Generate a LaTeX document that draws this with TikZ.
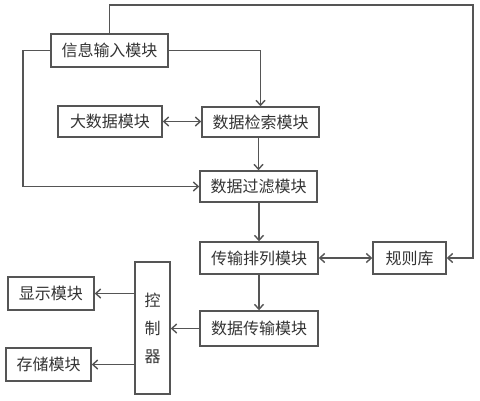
\documentclass[tikz,border=0pt]{standalone}
\usepackage{fontspec}
\setmainfont{Noto Sans CJK SC}
\usetikzlibrary{arrows.meta}

\definecolor{linegray}{HTML}{555555}
\definecolor{textgray}{HTML}{333333}

\tikzset{
  modbox/.style={draw=linegray, line width=1.4pt, inner sep=0pt, text=textgray,
    font=\fontsize{16}{18}\selectfont},
  arr/.style={draw=linegray, line width=1.4pt, -{Straight Barb[length=5pt,width=9pt]}},
  darr/.style={draw=linegray, line width=1.4pt, {Straight Barb[length=5pt,width=9pt]}-{Straight Barb[length=5pt,width=9pt]}}
}

\begin{document}
\begin{tikzpicture}[x=1pt, y=-1pt]
  \useasboundingbox (0,0) rectangle (480,400);

  % --- Modules ---
  \node[modbox, minimum width=117pt, minimum height=33pt] (info) at (109.5,50.5) {信息输入模块};
  \node[modbox, minimum width=104pt, minimum height=31pt] (bigdata) at (110,121.5) {大数据模块};
  \node[modbox, minimum width=117pt, minimum height=30pt] (search) at (260.5,122) {数据检索模块};
  \node[modbox, minimum width=117pt, minimum height=31pt] (filter) at (258.5,186.5) {数据过滤模块};
  \node[modbox, minimum width=118pt, minimum height=32pt] (sort) at (259,258) {传输排列模块};
  \node[modbox, minimum width=73pt, minimum height=32pt] (rule) at (409.5,258) {规则库};
  \node[modbox, minimum width=118pt, minimum height=35pt] (trans) at (259,328.5) {数据传输模块};
  \node[modbox, minimum width=35pt, minimum height=132pt, align=center,
    font=\fontsize{16}{28}\selectfont] (ctrl) at (152.5,328) {控\\制\\器};
  \node[modbox, minimum width=86pt, minimum height=33pt] (show) at (51,293.5) {显示模块};
  \node[modbox, minimum width=85pt, minimum height=33pt] (store) at (48.5,364.5) {存储模块};

  % --- Routing points ---
  \coordinate (topR) at (473,5);
  \coordinate (leftL) at (23,50.5);

  % --- Connectors ---
  \draw[arr] (info.north) |- (topR) |- (rule.east);
  \draw[arr] (info.west) -- (leftL) |- (filter.west);
  \draw[arr] (info.east) -| (search.north);
  \draw[darr] (bigdata.east) -- (bigdata.east -| search.west);
  \draw[arr] (search.south -| filter.north) -- (filter.north);
  \draw[arr] (filter.south -| sort.north) -- (sort.north);
  \draw[darr] (sort.east) -- (rule.west);
  \draw[arr] (sort.south) -- (trans.north);
  \draw[arr] (trans.west) -- (trans.west -| ctrl.east);
  \draw[arr] (show.east -| ctrl.west) -- (show.east);
  \draw[arr] (store.east -| ctrl.west) -- (store.east);

\end{tikzpicture}
\end{document}
